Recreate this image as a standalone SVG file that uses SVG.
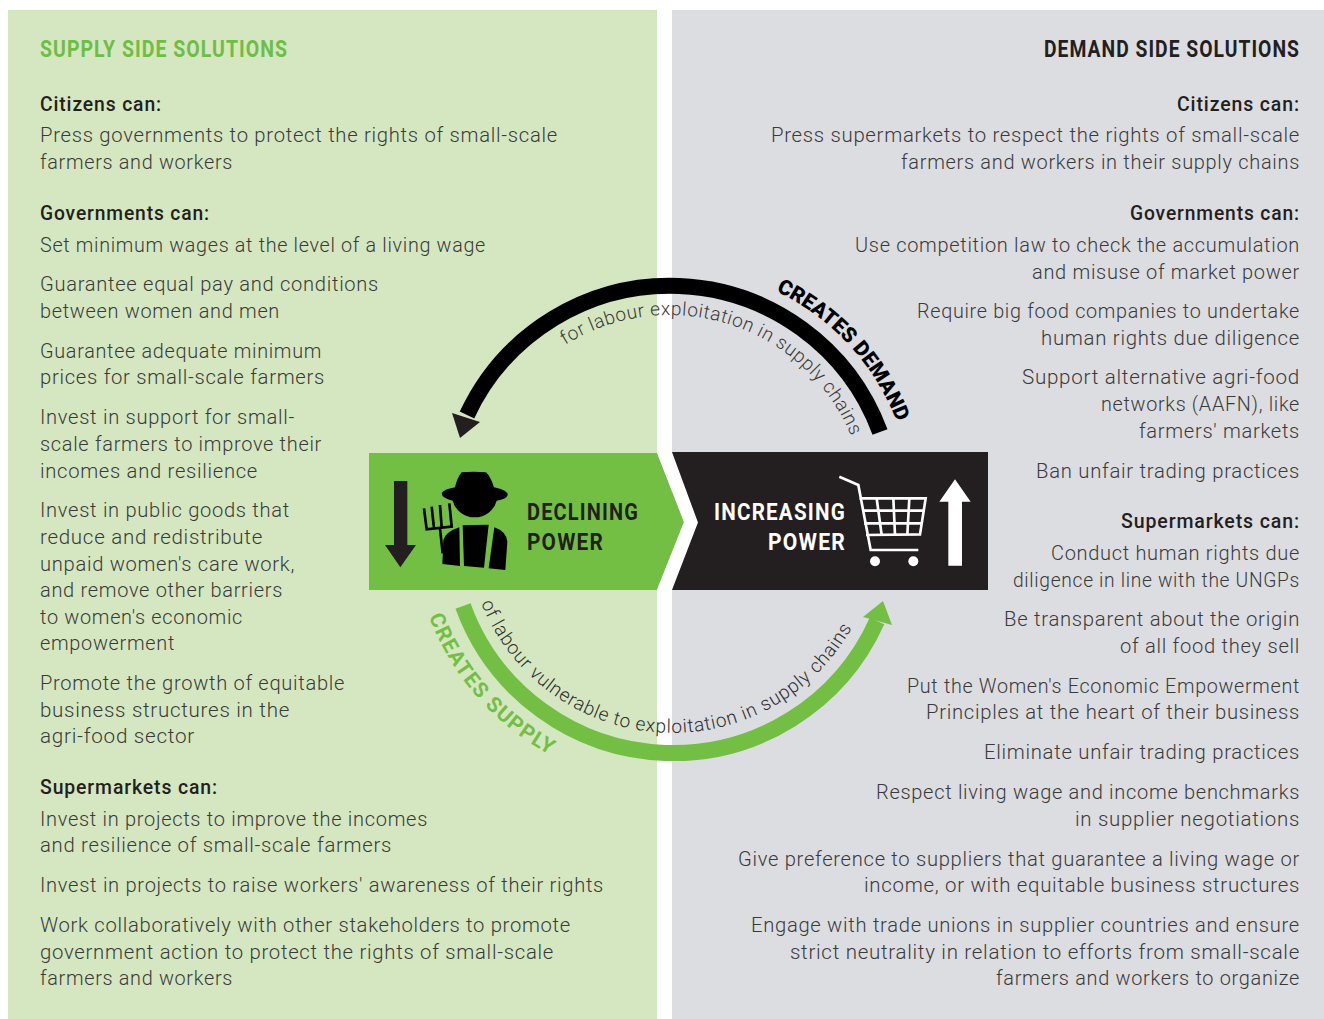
<svg xmlns="http://www.w3.org/2000/svg" width="1324" height="1019" viewBox="0 0 1324 1019">
<style>
text{font-family:Roboto,"Liberation Sans",sans-serif;}
.b{font-size:20px;font-weight:300;fill:#3a3a3a;letter-spacing:.7px;}
.h{font-size:20px;font-weight:500;fill:#231f20;letter-spacing:.9px;}
.t{font-size:23px;font-weight:700;letter-spacing:1.2px;}
.p{font-size:24px;font-weight:700;letter-spacing:1.4px;}
.a{font-size:19px;font-weight:300;fill:#3a3a3a;letter-spacing:.55px;}
.a2{font-size:19px;font-weight:300;fill:#2e2e2e;letter-spacing:.75px;}
.c{font-size:21px;font-weight:900;letter-spacing:0;}
.c2{font-size:21px;font-weight:700;letter-spacing:1.3px;}
</style>
<defs>
<path id="pa" d="M565 345 A197 197 0 0 1 860 462"/>
<path id="pb" d="M481 603 A206 206 0 0 0 863 605"/>
<path id="pc" d="M776 291 A243 243 0 0 1 905 447"/>
<path id="pd" d="M429 616.5 A260 260 0 0 0 593 773"/>
</defs>
<rect width="1324" height="1019" fill="#fff"/>
<g id="supply-panel">
<rect x="8" y="10" width="649" height="1009" fill="#d4e7c0"/>
<text class="t" x="40" y="57" textLength="248" lengthAdjust="spacingAndGlyphs" fill="#6fbe44">SUPPLY SIDE SOLUTIONS</text>
<text class="h" x="40" y="111" textLength="122" lengthAdjust="spacingAndGlyphs">Citizens can:</text>
<text class="b" x="40" y="142" textLength="518" lengthAdjust="spacingAndGlyphs">Press governments to protect the rights of small-scale</text>
<text class="b" x="40" y="169" textLength="193" lengthAdjust="spacingAndGlyphs">farmers and workers</text>
<text class="h" x="40" y="220" textLength="170" lengthAdjust="spacingAndGlyphs">Governments can:</text>
<text class="b" x="40" y="252" textLength="446" lengthAdjust="spacingAndGlyphs">Set minimum wages at the level of a living wage</text>
<text class="b" x="40" y="291" textLength="339" lengthAdjust="spacingAndGlyphs">Guarantee equal pay and conditions</text>
<text class="b" x="40" y="318" textLength="240" lengthAdjust="spacingAndGlyphs">between women and men</text>
<text class="b" x="40" y="358" textLength="282" lengthAdjust="spacingAndGlyphs">Guarantee adequate minimum</text>
<text class="b" x="40" y="384" textLength="285" lengthAdjust="spacingAndGlyphs">prices for small-scale farmers</text>
<text class="b" x="40" y="424" textLength="255" lengthAdjust="spacingAndGlyphs">Invest in support for small-</text>
<text class="b" x="40" y="451" textLength="282" lengthAdjust="spacingAndGlyphs">scale farmers to improve their</text>
<text class="b" x="40" y="478" textLength="218" lengthAdjust="spacingAndGlyphs">incomes and resilience</text>
<text class="b" x="40" y="517" textLength="250" lengthAdjust="spacingAndGlyphs">Invest in public goods that</text>
<text class="b" x="40" y="544" textLength="223" lengthAdjust="spacingAndGlyphs">reduce and redistribute</text>
<text class="b" x="40" y="571" textLength="255" lengthAdjust="spacingAndGlyphs">unpaid women's care work,</text>
<text class="b" x="40" y="597" textLength="243" lengthAdjust="spacingAndGlyphs">and remove other barriers</text>
<text class="b" x="40" y="624" textLength="203" lengthAdjust="spacingAndGlyphs">to women's economic</text>
<text class="b" x="40" y="650" textLength="135" lengthAdjust="spacingAndGlyphs">empowerment</text>
<text class="b" x="40" y="690" textLength="305" lengthAdjust="spacingAndGlyphs">Promote the growth of equitable</text>
<text class="b" x="40" y="717" textLength="250" lengthAdjust="spacingAndGlyphs">business structures in the</text>
<text class="b" x="40" y="743" textLength="155" lengthAdjust="spacingAndGlyphs">agri-food sector</text>
<text class="h" x="40" y="794" textLength="178" lengthAdjust="spacingAndGlyphs">Supermarkets can:</text>
<text class="b" x="40" y="826" textLength="388" lengthAdjust="spacingAndGlyphs">Invest in projects to improve the incomes</text>
<text class="b" x="40" y="852" textLength="352" lengthAdjust="spacingAndGlyphs">and resilience of small-scale farmers</text>
<text class="b" x="40" y="892" textLength="564" lengthAdjust="spacingAndGlyphs">Invest in projects to raise workers' awareness of their rights</text>
<text class="b" x="40" y="932" textLength="531" lengthAdjust="spacingAndGlyphs">Work collaboratively with other stakeholders to promote</text>
<text class="b" x="40" y="959" textLength="514" lengthAdjust="spacingAndGlyphs">government action to protect the rights of small-scale</text>
<text class="b" x="40" y="985" textLength="193" lengthAdjust="spacingAndGlyphs">farmers and workers</text>
</g>
<g id="demand-panel">
<rect x="672" y="10" width="652" height="1009" fill="#dcdde0"/>
<text class="t" x="1044" y="57" textLength="256" lengthAdjust="spacingAndGlyphs" fill="#231f20">DEMAND SIDE SOLUTIONS</text>
<text class="h" x="1177" y="111" textLength="123" lengthAdjust="spacingAndGlyphs">Citizens can:</text>
<text class="b" x="771" y="142" textLength="529" lengthAdjust="spacingAndGlyphs">Press supermarkets to respect the rights of small-scale</text>
<text class="b" x="901" y="169" textLength="399" lengthAdjust="spacingAndGlyphs">farmers and workers in their supply chains</text>
<text class="h" x="1130" y="220" textLength="170" lengthAdjust="spacingAndGlyphs">Governments can:</text>
<text class="b" x="855" y="252" textLength="445" lengthAdjust="spacingAndGlyphs">Use competition law to check the accumulation</text>
<text class="b" x="1032" y="279" textLength="268" lengthAdjust="spacingAndGlyphs">and misuse of market power</text>
<text class="b" x="917" y="318" textLength="383" lengthAdjust="spacingAndGlyphs">Require big food companies to undertake</text>
<text class="b" x="1041" y="345" textLength="259" lengthAdjust="spacingAndGlyphs">human rights due diligence</text>
<text class="b" x="1022" y="384" textLength="278" lengthAdjust="spacingAndGlyphs">Support alternative agri-food</text>
<text class="b" x="1101" y="411" textLength="199" lengthAdjust="spacingAndGlyphs">networks (AAFN), like</text>
<text class="b" x="1139" y="438" textLength="161" lengthAdjust="spacingAndGlyphs">farmers' markets</text>
<text class="b" x="1036" y="478" textLength="264" lengthAdjust="spacingAndGlyphs">Ban unfair trading practices</text>
<text class="h" x="1121" y="528" textLength="179" lengthAdjust="spacingAndGlyphs">Supermarkets can:</text>
<text class="b" x="1051" y="560" textLength="249" lengthAdjust="spacingAndGlyphs">Conduct human rights due</text>
<text class="b" x="1013" y="587" textLength="287" lengthAdjust="spacingAndGlyphs">diligence in line with the UNGPs</text>
<text class="b" x="1004" y="626" textLength="296" lengthAdjust="spacingAndGlyphs">Be transparent about the origin</text>
<text class="b" x="1120" y="653" textLength="180" lengthAdjust="spacingAndGlyphs">of all food they sell</text>
<text class="b" x="907" y="693" textLength="393" lengthAdjust="spacingAndGlyphs">Put the Women's Economic Empowerment</text>
<text class="b" x="926" y="719" textLength="374" lengthAdjust="spacingAndGlyphs">Principles at the heart of their business</text>
<text class="b" x="984" y="759" textLength="316" lengthAdjust="spacingAndGlyphs">Eliminate unfair trading practices</text>
<text class="b" x="876" y="799" textLength="424" lengthAdjust="spacingAndGlyphs">Respect living wage and income benchmarks</text>
<text class="b" x="1075" y="826" textLength="225" lengthAdjust="spacingAndGlyphs">in supplier negotiations</text>
<text class="b" x="738" y="866" textLength="562" lengthAdjust="spacingAndGlyphs">Give preference to suppliers that guarantee a living wage or</text>
<text class="b" x="864" y="892" textLength="436" lengthAdjust="spacingAndGlyphs">income, or with equitable business structures</text>
<text class="b" x="751" y="932" textLength="549" lengthAdjust="spacingAndGlyphs">Engage with trade unions in supplier countries and ensure</text>
<text class="b" x="790" y="959" textLength="510" lengthAdjust="spacingAndGlyphs">strict neutrality in relation to efforts from small-scale</text>
<text class="b" x="996" y="985" textLength="304" lengthAdjust="spacingAndGlyphs">farmers and workers to organize</text>
</g>
<g id="declining-power">
<polygon points="369,453 657,453 684,522 657,590 369,590" fill="#72bf44"/>
<g transform="translate(360 440) scale(.33333)">
<polygon points="102,123 142,123 142,315 168,315 121,382 75,315 102,315" fill="#231f20"/>
<path d="M305 97Q340 93 378 97Q392 110 402 142Q443 150 443 165Q440 178 410 182A68 66 0 0 1 278 182Q245 175 245 160Q250 148 285 142Q292 112 305 97Z"/>
<path d="M298 262L300 378L247 372L250 300Q258 275 298 262Z"/>
<path d="M308 256L386 254L372 383L312 378Z"/>
<path d="M403 262Q440 275 442 305L436 390L386 385Z"/>
<path d="M192 205L200 268L275 260L268 190M215 200L222 265M240 195L245 262M240 265L248 340" fill="none" stroke="#000" stroke-width="8"/>
</g>
<text class="p" x="527" y="520" textLength="112" lengthAdjust="spacingAndGlyphs" fill="#231f20">DECLINING</text>
<text class="p" x="527" y="550" textLength="77" lengthAdjust="spacingAndGlyphs" fill="#231f20">POWER</text>
</g>
<g id="increasing-power">
<polygon points="657,452 672,452 698,522.5 672,590 657,590 684,522" fill="#fff"/>
<polygon points="672,452 988,452 988,590 672,590 698,522.5" fill="#231f20"/>
<g transform="translate(660 440) scale(.33333)">
<polygon points="885,118 932,185 906,185 906,377 865,377 865,185 838,185" fill="#fff"/>
<path d="M538 110L595 135L632 330L775 330M598 175L797 175L780 283L618 285M606 212L790 212M612 250L785 250M650 175L665 285M700 175L705 285M748 175L742 285" fill="none" stroke="#fff" stroke-width="8"/>
<circle cx="645" cy="364" r="15" fill="#fff"/>
<circle cx="760" cy="364" r="15" fill="#fff"/>
</g>
<text class="p" x="714" y="520" textLength="132" lengthAdjust="spacingAndGlyphs" fill="#fff">INCREASING</text>
<text class="p" x="768" y="550" textLength="78" lengthAdjust="spacingAndGlyphs" fill="#fff">POWER</text>
</g>
<g id="connectors" fill="none">
<path d="M880 432A224 224 0 0 0 467 415" stroke="#000" stroke-width="16"/>
<polygon points="460,438 452,413 480,422" fill="#231f20"/>
<path d="M463 606A223.5 223.5 0 0 0 877 621" stroke="#72bf44" stroke-width="16"/>
<polygon points="883,601 863,617 892,625" fill="#72bf44"/>
</g>
<g id="connector-labels">
<text class="a"><textPath href="#pa">for labour exploitation in supply chains</textPath></text>
<text class="a2"><textPath href="#pb">of labour vulnerable to exploitation in supply chains</textPath></text>
<text class="c" fill="#000"><textPath href="#pc">CREATES DEMAND</textPath></text>
<text class="c2" fill="#72bf44"><textPath href="#pd">CREATES SUPPLY</textPath></text>
</g>
</svg>
